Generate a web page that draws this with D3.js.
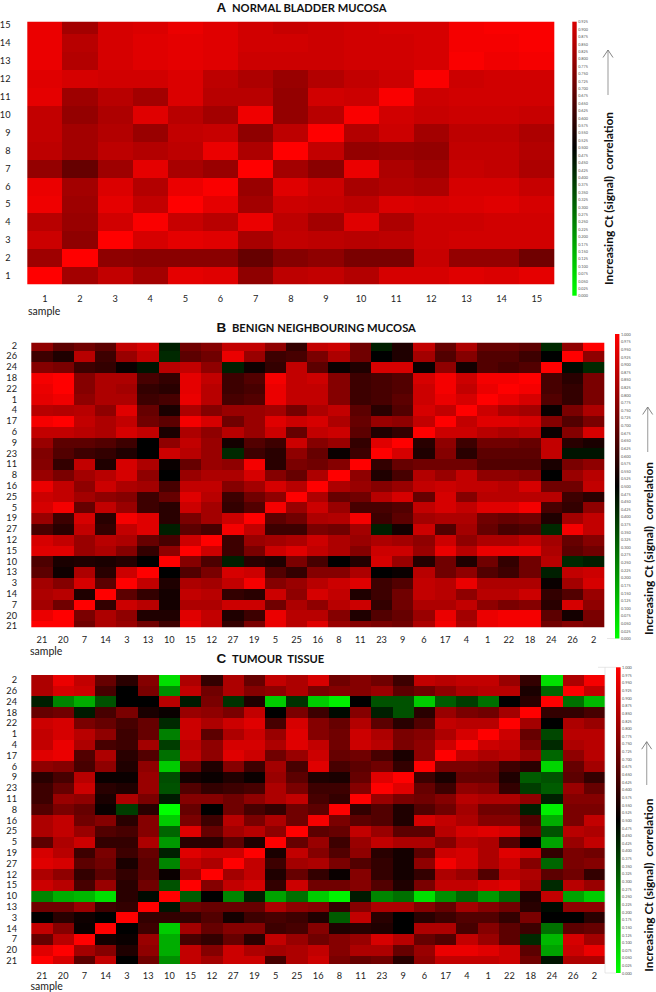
<!DOCTYPE html>
<html>
<head>
<meta charset="utf-8">
<script src="https://cdn.jsdelivr.net/npm/d3@7"></script>
<style>
  html, body { margin: 0; padding: 0; background: #fff; }
  svg { display: block; }
  text { font-family: Lato, "Open Sans", sans-serif; fill: #222; }
  .tick text { font-size: 9.2px; }
  .bar-axis .tick text { font-size: 3.8px; fill: #555; }
  .side { font-size: 12px; font-weight: 700; fill: #111; white-space: pre; }
  .sample { font-size: 10.5px; }
  .letter { font-family: "Liberation Sans", sans-serif; font-size: 13.5px; font-weight: 700; fill: #111; }
  .name { font-size: 11.2px; font-weight: 700; fill: #111; white-space: pre; }
</style>
</head>
<body>
<div id="chart"></div>
<script>
// correlation x100, rows listed top to bottom
const samplesA = [1,2,3,4,5,6,7,8,9,10,11,12,13,14,15]
const rowsA = [15,14,13,12,11,10,9,8,7,6,5,4,3,2,1]
const normalMucosa = [
  [96,82,92,93,96,94,91,89,90,91,92,92,98,99,99],
  [96,86,92,94,95,94,91,91,90,91,91,92,98,98,99],
  [96,85,92,94,95,94,90,90,90,91,91,92,99,97,98],
  [94,92,91,91,93,87,84,80,85,88,90,99,90,91,91],
  [95,81,86,82,93,86,86,79,91,90,99,90,91,91,91],
  [88,79,84,94,86,82,97,79,86,99,91,89,90,90,89],
  [88,82,85,80,88,89,78,87,100,85,90,82,87,87,84],
  [87,82,87,85,87,96,84,100,88,79,80,79,88,88,85],
  [79,70,81,95,83,80,100,82,77,96,84,81,89,88,84],
  [96,82,93,85,96,99,80,94,90,83,85,84,92,92,89],
  [97,81,95,88,100,95,82,90,89,87,93,92,93,94,92],
  [86,80,91,99,89,86,96,87,82,94,84,90,90,91,91],
  [90,78,100,92,95,94,83,88,87,86,87,90,91,91,91],
  [81,100,78,77,77,77,70,76,78,74,74,89,79,79,72],
  [100,82,88,82,95,94,78,87,88,85,92,92,94,93,95]
]

const samplesBC = [21,20,7,14,3,13,10,15,12,27,19,5,25,16,8,11,23,9,6,17,4,1,22,18,24,26,2]
const rowsBC = [2,26,24,18,22,1,4,17,6,9,23,11,8,16,25,5,19,27,12,15,10,13,3,14,7,20,21]
const benignMucosa = [
  [78,68,72,68,88,92,44,72,76,88,88,78,60,88,90,72,44,56,88,70,84,70,70,68,42,78,100],
  [62,56,86,62,80,88,42,68,72,96,80,62,64,74,84,72,50,56,82,66,76,66,66,62,50,100,78],
  [76,74,62,60,52,46,86,88,78,44,53,60,88,68,52,56,92,92,52,78,54,66,64,66,100,48,42],
  [98,100,76,84,84,64,60,95,88,62,66,98,88,90,76,62,64,66,92,98,90,98,98,100,64,58,74],
  [96,100,76,84,82,60,58,95,86,62,64,96,88,88,76,62,64,66,90,98,88,96,100,98,64,60,74],
  [95,97,78,84,84,62,64,96,86,64,66,96,88,88,76,62,64,68,90,96,92,100,96,92,66,60,74],
  [86,85,86,78,94,70,55,84,76,80,80,82,73,84,88,68,58,66,92,88,100,90,84,82,52,74,84],
  [98,100,88,84,88,72,68,98,92,72,80,94,90,92,84,70,80,78,88,100,88,94,94,92,76,66,74],
  [88,88,86,84,92,88,55,84,78,86,80,90,70,88,90,68,56,60,100,90,90,86,84,86,52,76,92],
  [80,68,68,66,62,50,78,88,80,54,66,62,90,76,80,60,94,100,58,78,62,72,72,70,88,58,55],
  [75,66,62,60,56,50,90,86,80,42,62,58,78,70,52,62,100,92,56,76,58,68,68,68,88,46,46],
  [76,60,88,56,92,84,52,70,80,78,98,58,74,72,76,100,60,70,72,72,72,66,66,66,55,74,78],
  [80,74,82,86,92,78,50,80,84,84,92,76,70,84,100,78,56,64,85,80,88,78,78,76,50,80,86],
  [96,88,78,90,84,82,64,88,88,76,82,92,86,100,84,80,76,80,88,90,88,88,86,92,72,72,88],
  [90,88,82,78,76,62,70,94,86,62,72,78,100,84,70,72,86,92,70,92,76,86,86,86,86,62,58],
  [92,98,70,88,80,62,58,90,82,60,66,98,80,90,80,64,64,66,88,92,88,94,94,98,64,60,78],
  [80,62,92,58,98,94,58,74,82,90,100,68,72,84,85,98,62,68,82,84,84,72,70,72,56,82,88],
  [64,58,88,60,88,94,44,68,64,98,88,62,62,74,72,82,44,54,90,66,82,70,64,66,42,98,88],
  [92,88,80,86,84,70,64,90,100,62,80,82,84,90,84,80,84,82,78,90,78,84,84,88,82,70,76],
  [94,94,80,84,76,60,78,100,90,62,74,90,94,88,84,76,90,90,80,96,86,96,96,96,84,68,72],
  [65,55,56,55,57,50,100,76,65,44,58,56,74,64,50,57,92,80,57,72,56,72,60,72,86,42,44],
  [68,53,84,58,90,100,50,66,74,92,90,66,60,76,76,84,50,52,86,72,78,66,62,72,44,88,90],
  [82,76,92,68,100,88,56,84,82,88,98,76,80,86,90,94,62,66,88,86,96,84,84,84,52,82,92],
  [84,86,56,100,68,60,54,88,86,60,58,90,78,92,88,56,62,72,88,86,78,86,86,90,60,66,80],
  [82,72,100,60,90,86,54,84,84,90,90,72,84,78,86,90,60,72,84,84,88,78,74,76,58,92,78],
  [96,100,74,84,78,56,56,94,88,56,62,96,86,86,76,56,66,70,80,96,82,96,98,98,68,54,74],
  [100,100,72,84,80,72,62,96,88,60,74,96,86,94,80,76,74,72,84,98,84,96,98,98,72,76,74]
]
const tumourTissue = [
  [84,96,88,70,58,76,6,84,60,84,70,88,84,92,72,76,72,62,88,86,88,88,80,60,6,84,98],
  [84,92,90,64,50,74,22,88,72,84,76,78,84,74,76,76,80,68,72,78,84,86,86,55,30,100,88],
  [44,24,16,34,50,50,86,45,74,40,56,10,40,10,3,50,34,34,10,32,38,28,50,58,100,28,14],
  [70,72,45,64,74,55,52,80,78,74,88,50,74,62,48,76,44,34,58,80,74,72,82,100,60,60,64],
  [90,92,74,70,64,70,42,90,84,90,94,64,92,76,70,85,68,58,66,88,86,86,100,82,50,84,80],
  [88,92,86,78,62,70,25,90,68,84,90,80,94,76,72,90,84,74,76,84,92,100,90,70,36,86,86],
  [88,96,84,64,62,82,38,86,78,92,92,84,94,88,72,90,86,74,78,90,100,90,88,74,42,84,86],
  [94,96,66,84,58,66,28,88,78,94,90,72,80,90,70,72,64,55,78,100,88,84,86,80,30,78,86],
  [78,76,64,78,56,78,10,72,56,76,62,82,64,94,64,68,72,60,100,74,74,72,62,58,8,70,82],
  [58,64,86,52,52,80,35,54,52,56,52,80,68,56,55,70,94,100,62,55,70,70,56,32,34,68,60],
  [62,70,90,58,56,80,34,66,60,62,64,84,74,62,62,76,100,94,70,62,78,76,60,38,32,80,70],
  [62,80,78,55,84,74,45,76,76,72,78,84,88,64,60,100,80,74,72,76,86,84,84,78,44,76,76],
  [66,74,70,52,38,58,0,70,50,72,64,60,72,68,100,60,66,56,66,72,82,72,72,44,3,74,74],
  [84,88,72,76,58,76,10,74,62,86,74,84,72,98,74,68,66,56,92,88,84,76,76,66,16,74,88],
  [84,88,80,66,64,76,30,94,70,82,86,78,100,68,70,88,80,68,68,86,92,94,92,72,34,86,84],
  [68,84,90,60,60,84,20,58,58,68,56,100,70,80,62,80,88,84,84,76,86,84,66,50,18,80,88],
  [92,86,62,74,62,70,44,94,90,90,100,55,88,76,66,78,58,54,68,90,92,84,94,90,60,74,72],
  [94,92,68,72,55,68,24,88,84,100,88,62,82,84,74,66,60,54,78,98,92,84,90,76,30,74,76],
  [84,78,60,68,60,68,52,82,100,82,88,56,70,60,52,76,60,54,60,84,80,66,86,84,68,72,60],
  [90,86,64,80,58,72,34,100,76,88,92,60,90,72,72,76,66,56,74,88,88,92,94,82,42,86,80],
  [24,16,14,6,58,48,100,32,50,24,44,18,28,10,2,45,24,28,6,22,30,20,30,56,88,18,10],
  [72,72,80,62,60,100,46,72,70,70,70,84,78,76,60,76,84,84,76,70,82,76,72,58,48,78,78],
  [50,58,53,50,100,60,60,60,66,54,62,64,62,56,32,88,58,50,58,62,66,66,60,74,50,50,58],
  [88,76,52,100,50,62,10,82,70,76,76,62,64,76,56,58,56,50,84,84,64,76,68,62,28,68,70],
  [70,86,100,54,52,80,16,64,60,70,58,88,80,72,76,80,92,86,70,66,88,80,68,42,14,92,82],
  [94,100,82,76,56,78,16,88,76,90,84,82,84,88,76,84,84,70,80,96,96,94,90,68,18,90,96],
  [100,92,68,88,50,72,22,88,82,90,90,64,84,90,74,70,72,58,78,88,88,88,90,72,46,84,84]
]

const barTicksA = [0.925,0.9,0.875,0.85,0.825,0.8,0.775,0.75,0.725,0.7,0.675,0.65,0.625,0.6,0.575,0.55,0.525,0.5,0.475,0.45,0.425,0.4,0.375,0.35,0.325,0.3,0.275,0.25,0.225,0.2,0.175,0.15,0.125,0.1,0.075,0.05,0.025,0]
const barTicksBC = [1,0.975,0.95,0.925,0.9,0.875,0.85,0.825,0.8,0.775,0.75,0.725,0.7,0.675,0.65,0.625,0.6,0.575,0.55,0.525,0.5,0.475,0.45,0.425,0.4,0.375,0.35,0.325,0.3,0.275,0.25,0.225,0.2,0.175,0.15,0.125,0.1,0.075,0.05,0.025,0]

const w = 656,
      h = 992

const color = d3.scaleLinear()
                .domain([0, 0.5, 1])
                .range(['#00ff00', '#000000', '#ff0000'])

const panels = [
  { id: 'a', letter: 'A', name: 'NORMAL BLADDER MUCOSA', matrix: normalMucosa, cols: samplesA, rows: rowsA,
    x0: 27.3, x1: 554.3, top: 21.7, bottom: 284.3, bandTop: 16.5, step: 17.9, labelX: 10.5, axisY: 299,
    sampleX: 28, sampleY: 312, titleY: 7, barX: 572.3, barW: 4.4, barTop: 21.7, barBottom: 295.7, barTicks: barTicksA,
    sideX: 608.3, sideY: 285, arrowX: 608, arrowTop: 50, arrowBottom: 95, guides: [] },
  { id: 'b', letter: 'B', name: 'BENIGN NEIGHBOURING MUCOSA', matrix: benignMucosa, cols: samplesBC, rows: rowsBC,
    x0: 31.3, x1: 604.3, top: 342.7, bottom: 627.3, bandTop: 340.3, step: 10.8, labelX: 17, axisY: 640,
    sampleX: 30, sampleY: 652, titleY: 327, barX: 615, barW: 4.4, barTop: 334, barBottom: 638.5, barTicks: barTicksBC,
    sideX: 648, sideY: 635, arrowX: 647.7, arrowTop: 407, arrowBottom: 452,
    guides: [[607, 638.5, 615, 638.5]] },
  { id: 'c', letter: 'C', name: 'TUMOUR  TISSUE', matrix: tumourTissue, cols: samplesBC, rows: rowsBC,
    x0: 31.3, x1: 605, top: 673.3, bottom: 964, bandTop: 674.8, step: 10.8, labelX: 17, axisY: 976,
    sampleX: 30.5, sampleY: 986.5, titleY: 658, barX: 616, barW: 4.6, barTop: 667.3, barBottom: 973, barTicks: barTicksBC,
    sideX: 648, sideY: 971.7, arrowX: 646.7, arrowTop: 741.7, arrowBottom: 785,
    guides: [[598, 667.3, 616, 667.3], [605, 667.3, 605, 973], [605, 973, 616, 973]] }
]

const svg = d3.select('#chart')
              .append('svg')
              .attr('width', w)
              .attr('height', h)

const defs = svg.append('defs')

// the source picture is a soft scan, cells bleed a little into each other
defs.append('filter')
    .attr('id', 'soft')
    .attr('color-interpolation-filters', 'sRGB')
    .append('feGaussianBlur')
    .attr('stdDeviation', 0.5)

panels.forEach(function(p) {
  const xScale = d3.scaleBand()
                   .domain(p.cols)
                   .range([p.x0, p.x1])

  const yScale = d3.scaleBand()
                   .domain(p.rows)
                   .range([p.bandTop, p.bandTop + p.rows.length * p.step])

  // the outer rows of the original are cut by the plot frame
  defs.append('clipPath')
      .attr('id', 'clip-' + p.id)
      .append('rect')
      .attr('x', p.x0)
      .attr('y', p.top)
      .attr('width', p.x1 - p.x0)
      .attr('height', p.bottom - p.top)

  const cells = p.matrix.flatMap((row, i) => row.map((v, j) => ({
    row: p.rows[i],
    col: p.cols[j],
    value: v / 100
  })))

  svg.append('g')
     .attr('clip-path', 'url(#clip-' + p.id + ')')
     .append('g')
     .attr('filter', 'url(#soft)')
     .selectAll('rect')
     .data(cells)
     .enter()
     .append('rect')
     .attr('x', (d) => xScale(d.col))
     .attr('y', (d) => yScale(d.row))
     .attr('width', xScale.bandwidth() + 0.5)
     .attr('height', yScale.bandwidth() + 0.5)
     .attr('fill', (d) => color(d.value))
     .attr('shape-rendering', 'crispEdges')

  svg.append('g')
     .attr('transform', 'translate(' + p.labelX + ', 0)')
     .call(d3.axisLeft(yScale).tickSize(0).tickPadding(0))
     .call((g) => g.select('.domain').remove())

  svg.append('g')
     .attr('transform', 'translate(0,' + (p.axisY - 4) + ')')
     .call(d3.axisBottom(xScale).tickSize(0).tickPadding(0))
     .call((g) => g.select('.domain').remove())

  svg.append('text')
     .attr('class', 'sample')
     .attr('x', p.sampleX)
     .attr('y', p.sampleY + 3)
     .text('sample')

  svg.append('text')
     .attr('class', 'letter')
     .attr('x', 216.5)
     .attr('y', p.titleY + 4.5)
     .text(p.letter)

  svg.append('text')
     .attr('class', 'name')
     .attr('x', 232)
     .attr('y', p.titleY + 4.5)
     .text(p.name)

  // colour bar
  const barScale = d3.scaleLinear()
                     .domain([d3.min(p.barTicks), d3.max(p.barTicks)])
                     .range([p.barBottom, p.barTop])

  const gradient = defs.append('linearGradient')
                       .attr('id', 'bar-' + p.id)
                       .attr('x1', 0).attr('x2', 0)
                       .attr('y1', 1).attr('y2', 0)

  const barMax = d3.max(p.barTicks)
  gradient.selectAll('stop')
          .data([0, 0.5, barMax])
          .enter()
          .append('stop')
          .attr('offset', (d) => d / barMax)
          .attr('stop-color', (d) => color(d))

  svg.append('rect')
     .attr('x', p.barX)
     .attr('y', p.barTop)
     .attr('width', p.barW)
     .attr('height', p.barBottom - p.barTop)
     .attr('fill', 'url(#bar-' + p.id + ')')

  svg.append('g')
     .attr('class', 'bar-axis')
     .attr('transform', 'translate(' + (p.barX + p.barW + 1.5) + ', 0)')
     .call(d3.axisRight(barScale).tickValues(p.barTicks).tickFormat(d3.format('.3f')).tickSize(0).tickPadding(0))
     .call((g) => g.select('.domain').remove())

  svg.selectAll(null)
     .data(p.guides)
     .enter()
     .append('line')
     .attr('x1', (d) => d[0]).attr('y1', (d) => d[1])
     .attr('x2', (d) => d[2]).attr('y2', (d) => d[3])
     .attr('stroke', '#ddd')
     .attr('stroke-width', 0.7)

  // side caption and arrow
  svg.append('text')
     .attr('class', 'side')
     .attr('transform', 'translate(' + (p.sideX + 4.5) + ',' + p.sideY + ') rotate(-90)')
     .text('Increasing Ct (signal)  correlation')

  svg.append('path')
     .attr('d', d3.line()([[p.arrowX, p.arrowBottom], [p.arrowX, p.arrowTop]]))
     .attr('stroke', '#aaa')
     .attr('stroke-width', 1.2)
     .attr('fill', 'none')

  svg.append('path')
     .attr('d', d3.line()([[p.arrowX - 5, p.arrowTop + 7.5], [p.arrowX, p.arrowTop], [p.arrowX + 5, p.arrowTop + 7.5]]))
     .attr('stroke', '#777')
     .attr('stroke-width', 0.9)
     .attr('fill', 'none')
})
</script>
</body>
</html>
